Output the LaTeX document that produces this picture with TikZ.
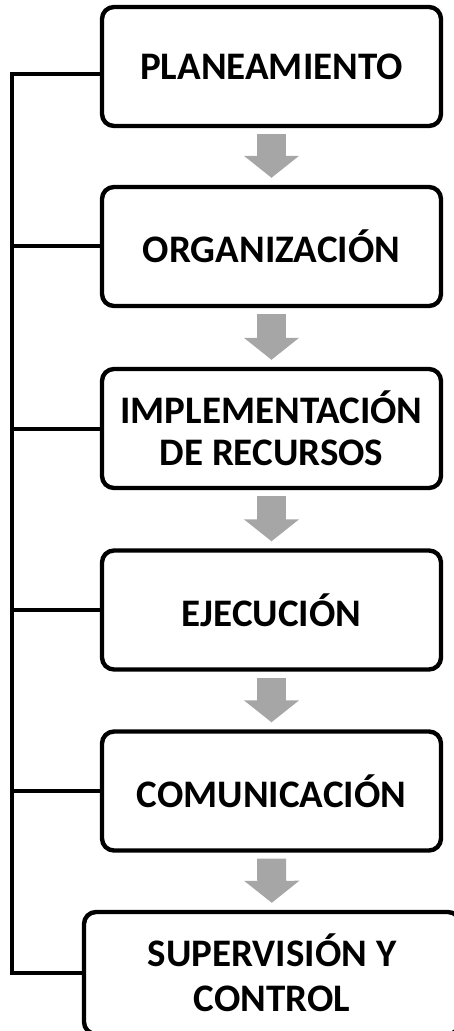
\documentclass[tikz,border=0pt]{standalone}
\usepackage{fontspec}
\setmainfont{Carlito}
\usetikzlibrary{arrows.meta}
\definecolor{arrowGray}{RGB}{166,166,166}

\begin{document}
\begin{tikzpicture}
[x=0.5pt,y=-0.5pt,
  stageBox/.style={shape=rectangle,draw,line width=2.2pt,rounded corners=6pt,%
    minimum width=169.5pt,minimum height=59.5pt,inner sep=0pt,align=center,%
    font=\fontsize{19.5}{21}\selectfont\bfseries},%
  flowArrow/.style={draw=arrowGray,line width=14.5pt,%
    -{Triangle[length=11pt,width=27pt]},shorten <=3pt,shorten >=3.5pt},%
  busLine/.style={-,line width=2pt}]
\useasboundingbox (0,0) rectangle (454,1031);
%% stages
\foreach \nodename/\x/\y/\label in {plan/271.5/66.5/PLANEAMIENTO,
  org/271.5/246.5/ORGANIZACIÓN,
  impl/271.5/428.5/{IMPLEMENTACIÓN\\DE RECURSOS},
  ejec/271.5/610/EJECUCIÓN, comu/271.5/791/COMUNICACIÓN}
{
  \node (\nodename) at (\x,\y) [stageBox] {\label};
}
\node (superv) at (272,973) [stageBox,minimum width=188pt,minimum height=61pt,%
  font=\fontsize{19.5}{22.5}\selectfont\bfseries] {SUPERVISIÓN Y\\CONTROL};
%% arrows between stages
\path
\foreach \startnode/\endnode in {plan/org, org/impl, impl/ejec, ejec/comu,
  comu/superv}
{
  (\startnode) edge[flowArrow] (\endnode)
};
%% bus on the left
\coordinate (busX) at (12,0);
\draw[busLine] ([yshift=-4pt]plan.west) -- ([yshift=-4pt]plan.west -| busX)
  -- (superv.west -| busX) -- (superv.west);
\foreach \nodename in {org, impl, ejec, comu}
{
  \draw[busLine] (\nodename.west) -- (\nodename.west -| busX);
}
\end{tikzpicture}
\end{document}
